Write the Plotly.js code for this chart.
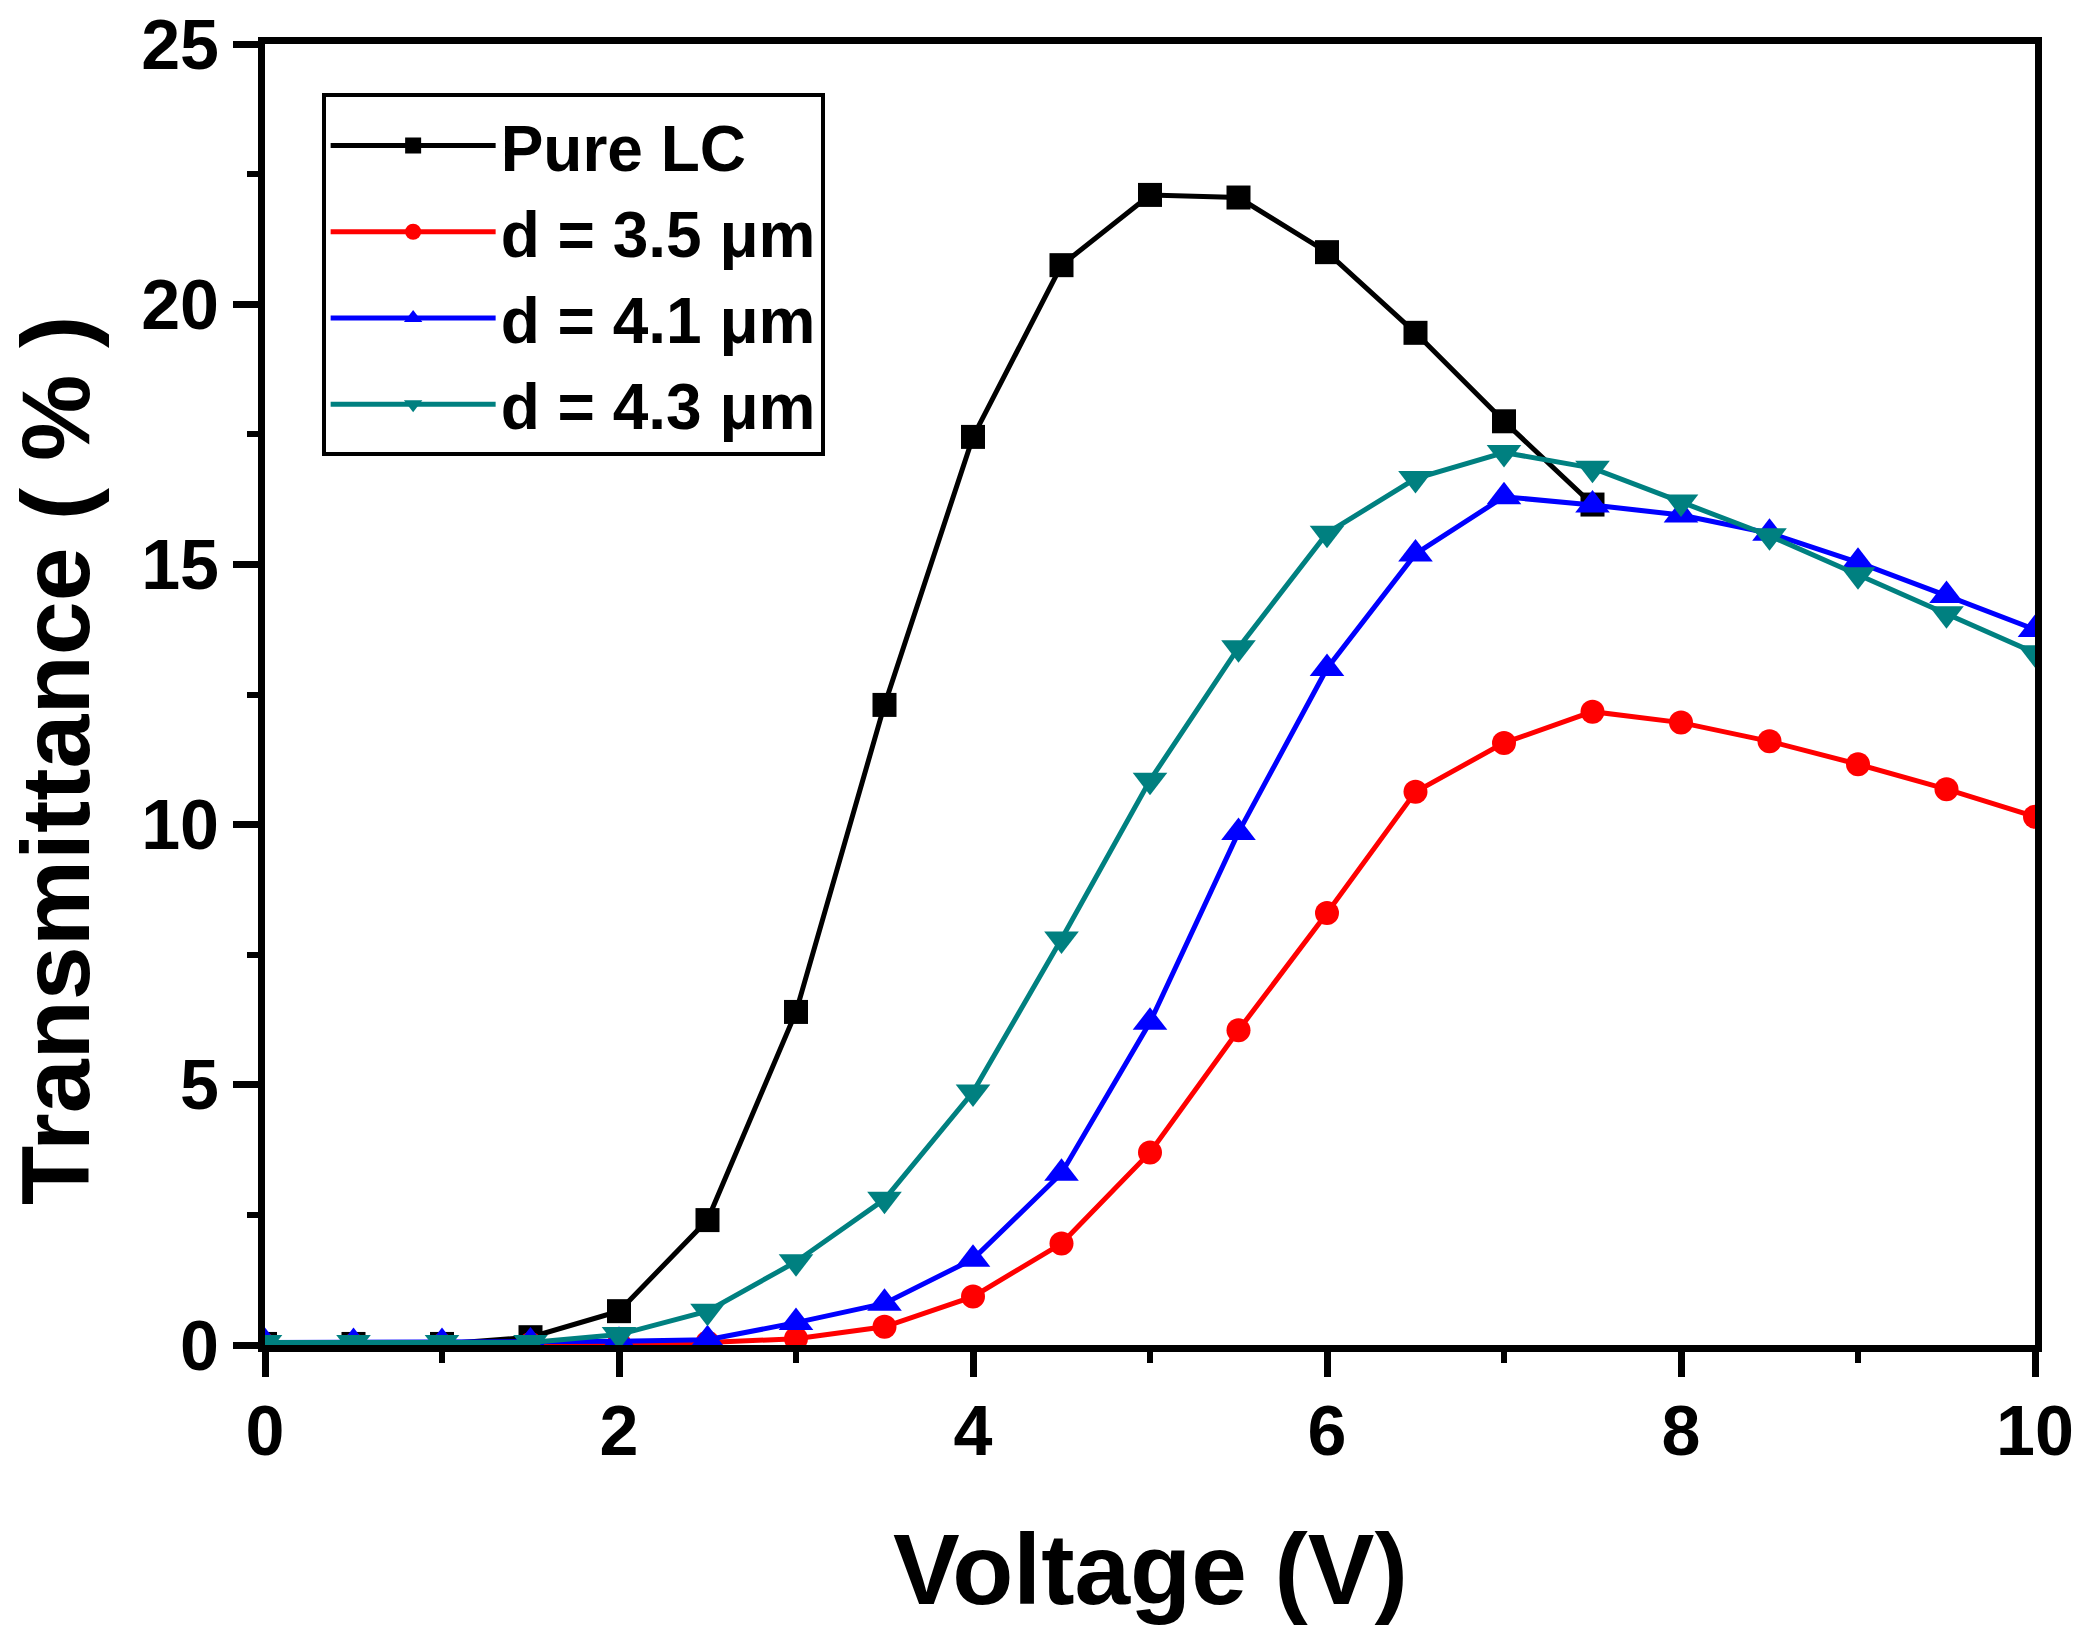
<!DOCTYPE html>
<html>
<head>
<meta charset="utf-8">
<script src="https://cdn.plot.ly/plotly-3.0.1.min.js"></script>
<style>
  html, body { margin: 0; padding: 0; background: #fff; }
  #myDiv { width: 2087px; height: 1631px; }
</style>
</head>
<body>
<div id="myDiv"></div>
<script>
  var voltage = [0, 0.5, 1, 1.5, 2, 2.5, 3, 3.5, 4, 4.5, 5, 5.5, 6, 6.5, 7, 7.5, 8, 8.5, 9, 9.5, 10];
  var voltagePure = [0, 0.5, 1, 1.5, 2, 2.5, 3, 3.5, 4, 4.5, 5, 5.5, 6, 6.5, 7, 7.5];

  var pureLC = [0.02, 0.02, 0.02, 0.15, 0.65, 2.4, 6.4, 12.3, 17.45, 20.75, 22.1, 22.05, 21.0, 19.45, 17.75, 16.15];
  var d35 = [0, 0, 0, 0.02, 0.03, 0.05, 0.12, 0.35, 0.93, 1.95, 3.7, 6.05, 8.3, 10.63, 11.57, 12.17, 11.96, 11.6, 11.16, 10.68, 10.15];
  var d41 = [0.05, 0.05, 0.05, 0.06, 0.07, 0.1, 0.43, 0.8, 1.65, 3.3, 6.2, 9.85, 13.0, 15.2, 16.3, 16.14, 15.95, 15.6, 15.04, 14.4, 13.75];
  var d43 = [0.05, 0.05, 0.05, 0.05, 0.2, 0.65, 1.6, 2.8, 4.86, 7.8, 10.85, 13.4, 15.6, 16.65, 17.15, 16.85, 16.2, 15.55, 14.8, 14.05, 13.3];

  var names = ['Pure LC', 'd = 3.5 μm', 'd = 4.1 μm', 'd = 4.3 μm'];
  var colors = ['#000000', '#ff0000', '#0000ff', '#008080'];
  var symbols = ['square', 'circle', 'triangle-up', 'triangle-down'];
  var sizes = [24, 24, 30, 30];

  var fontFam = 'Liberation Sans, Arial, sans-serif';

  function series(x, y, i) {
    return {
      x: x,
      y: y,
      mode: 'lines+markers',
      name: names[i],
      line: { color: colors[i], width: 5 },
      marker: { symbol: symbols[i], size: sizes[i], color: colors[i] }
    };
  }

  var data = [
    series(voltagePure, pureLC, 0),
    series(voltage, d35, 1),
    series(voltage, d41, 2),
    series(voltage, d43, 3)
  ];

  var axisCommon = {
    showgrid: false,
    zeroline: false,
    showline: true,
    linecolor: '#000',
    linewidth: 7,
    mirror: true,
    ticks: 'outside',
    ticklen: 25,
    tickwidth: 7,
    tickcolor: '#000',
    tickfont: { family: fontFam, size: 70, color: '#000', weight: 'bold' },
    minor: { ticks: 'outside', ticklen: 11, tickwidth: 6, tickcolor: '#000' }
  };

  var layout = {
    width: 2087,
    height: 1631,
    margin: { l: 265, r: 52, t: 44, b: 286 },
    paper_bgcolor: '#fff',
    plot_bgcolor: '#fff',
    showlegend: true,
    xaxis: Object.assign({}, axisCommon, {
      range: [0, 10],
      dtick: 2,
      tick0: 0,
      ticklabelstandoff: -6,
      minor: Object.assign({}, axisCommon.minor, { dtick: 1 })
    }),
    yaxis: Object.assign({}, axisCommon, {
      range: [0, 25],
      dtick: 5,
      tick0: 0,
      minor: Object.assign({}, axisCommon.minor, { dtick: 2.5 })
    }),
    legend: {
      x: 0.032,
      y: 0.962,
      xanchor: 'left',
      yanchor: 'top',
      bgcolor: '#fff',
      bordercolor: '#000',
      borderwidth: 4,
      itemwidth: 165,
      tracegroupgap: 0,
      font: { family: fontFam, size: 64, color: '#000', weight: 'bold' }
    },
    annotations: [
      {
        text: 'Voltage (V)',
        xref: 'paper', yref: 'paper',
        x: 0.5, y: -0.172,
        xanchor: 'center', yanchor: 'middle',
        showarrow: false,
        font: { family: fontFam, size: 100, color: '#000', weight: 'bold' }
      },
      {
        text: 'Transmittance ( % )',
        xref: 'paper', yref: 'paper',
        x: -0.118, y: 0.449,
        xanchor: 'center', yanchor: 'middle',
        textangle: -90,
        showarrow: false,
        font: { family: fontFam, size: 97, color: '#000', weight: 'bold' }
      }
    ]
  };

  Plotly.newPlot('myDiv', data, layout, { displayModeBar: false });
</script>
</body>
</html>
